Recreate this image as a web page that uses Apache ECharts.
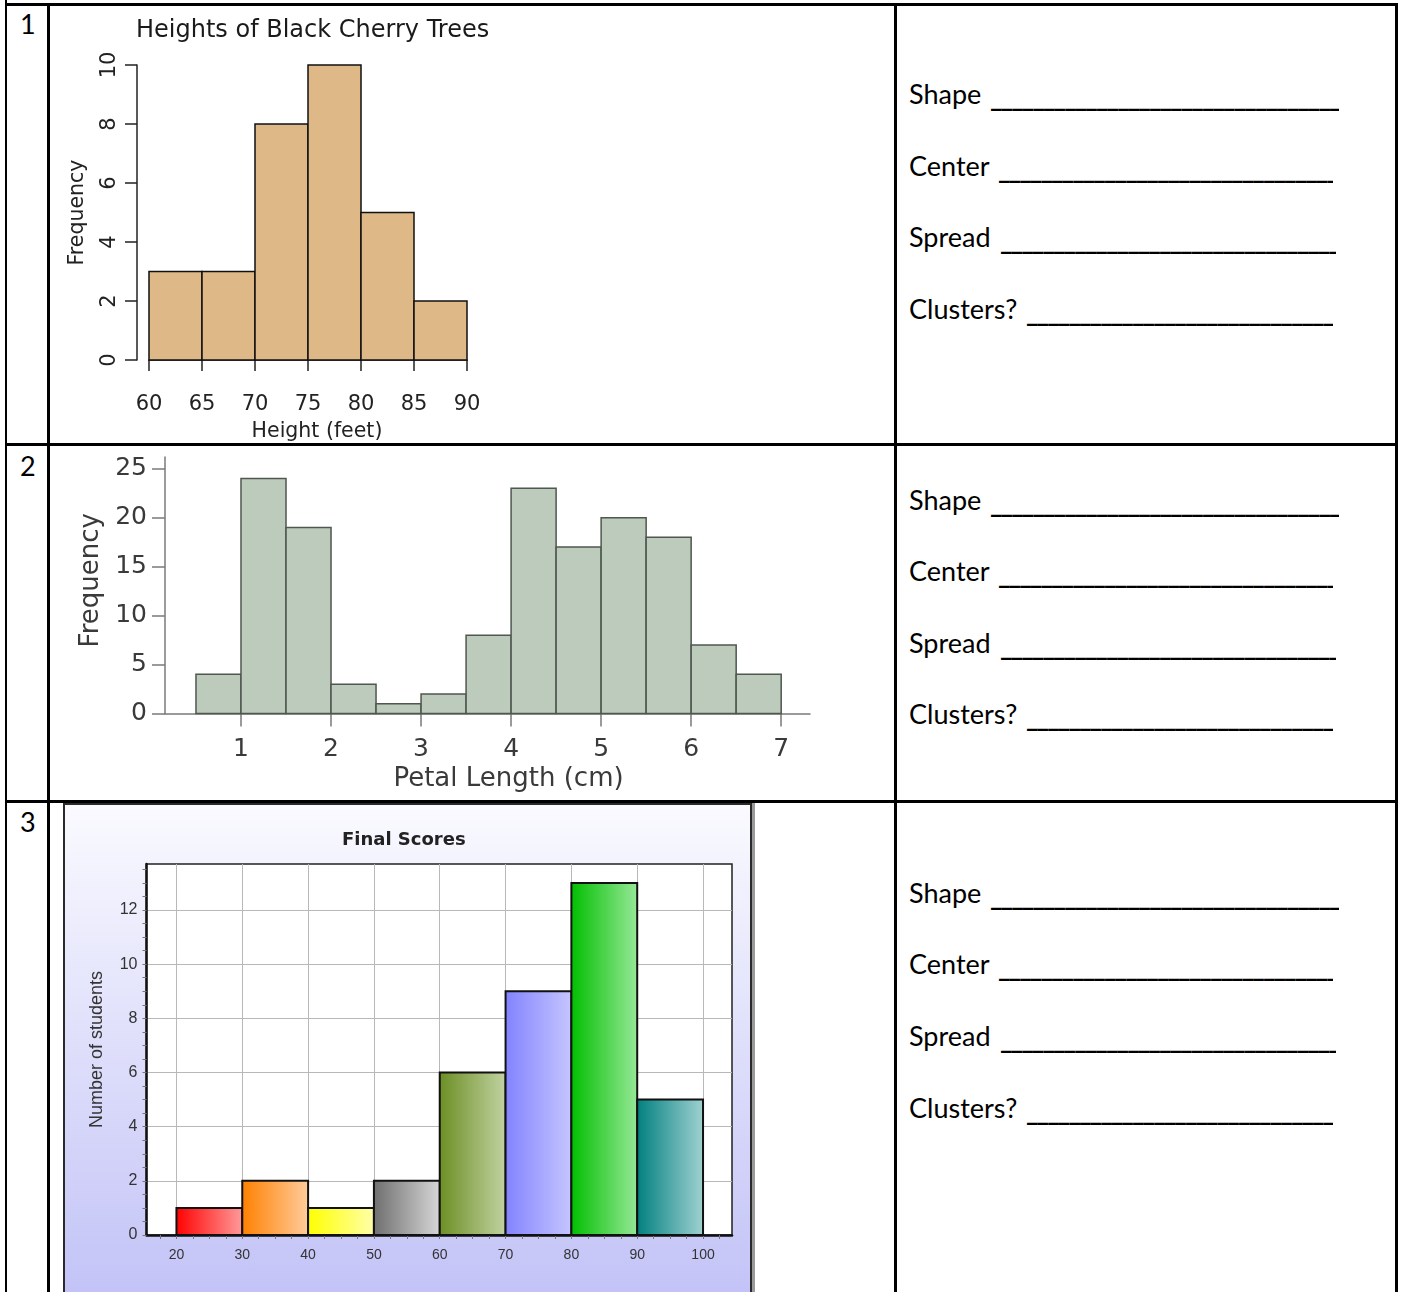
<!DOCTYPE html>
<html><head><meta charset="utf-8">
<script src="https://cdn.jsdelivr.net/npm/echarts@6/dist/echarts.min.js"></script>
<style>
html,body{margin:0;padding:0;background:#fff;}
#page{position:relative;width:1401px;height:1292px;overflow:hidden;font-family:Lato,'Noto Sans',sans-serif;color:#000;}
.ln{position:absolute;background:#000;}
.num{position:absolute;left:20px;font-size:27px;line-height:30px;}
.lab{position:absolute;left:909px;font-size:27px;line-height:34px;white-space:nowrap;}
.u{position:absolute;overflow:hidden;white-space:nowrap;font-size:27px;line-height:34px;letter-spacing:-2px;font-weight:bold;}
.chart{position:absolute;}
#panel3{position:absolute;left:63px;top:803px;width:689px;height:500px;box-sizing:border-box;border:2px solid #2a2a2a;background:linear-gradient(#fafaff,#c2c2f7);box-shadow:3px 0 0 #9a9a9a;}
</style></head><body>
<div id="page">
  <div class="ln" style="left:5px;top:3px;width:1393px;height:3px"></div>
  <div class="ln" style="left:5px;top:0;width:2px;height:1292px"></div>
  <div class="ln" style="left:47px;top:3px;width:3px;height:1289px"></div>
  <div class="ln" style="left:894px;top:3px;width:3px;height:1289px"></div>
  <div class="ln" style="left:1395px;top:3px;width:3px;height:1289px"></div>
  <div class="ln" style="left:5px;top:443px;width:1393px;height:3px"></div>
  <div class="ln" style="left:5px;top:800px;width:1393px;height:3px"></div>

  <div class="num" style="top:9px">1</div>
  <div class="num" style="top:451px">2</div>
  <div class="num" style="top:807px">3</div>

  <div id="panel3"></div>
  <div id="c1" class="chart" style="left:50px;top:6px;width:845px;height:437px"></div>
  <div id="c2" class="chart" style="left:50px;top:446px;width:845px;height:354px"></div>
  <div id="c3" class="chart" style="left:63px;top:803px;width:692px;height:489px"></div>
  <div id="fields"></div>
</div>
<script>
// ---------- data ----------
const rowLabels = ['Shape', 'Center', 'Spread', 'Clusters?'];

const treeTitle = 'Heights of Black Cherry Trees';
const treeBinEdges = [60, 65, 70, 75, 80, 85, 90];
const treeCounts = [3, 3, 8, 10, 5, 2];

const petalBinEdges = [0.5, 1.0, 1.5, 2.0, 2.5, 3.0, 3.5, 4.0, 4.5, 5.0, 5.5, 6.0, 6.5, 7.0];
const petalCounts = [4, 24, 19, 3, 1, 2, 8, 23, 17, 20, 18, 7, 4];
const petalXTicks = [1, 2, 3, 4, 5, 6, 7];
const petalYTicks = [0, 5, 10, 15, 20, 25];

const scoreTitle = 'Final Scores';
const scoreBinEdges = [20, 30, 40, 50, 60, 70, 80, 90, 100];
const scoreCounts = [1, 2, 1, 2, 6, 9, 13, 5];
const scoreXTicks = [20, 30, 40, 50, 60, 70, 80, 90, 100];
const scoreYTicks = [0, 2, 4, 6, 8, 10, 12];
const scoreXMinor = [17.5, 20, 22.5, 25, 27.5, 30, 32.5, 35, 37.5, 40, 42.5, 45, 47.5, 50, 52.5, 55, 57.5, 60, 62.5, 65, 67.5, 70, 72.5, 75, 77.5, 80, 82.5, 85, 87.5, 90, 92.5, 95, 97.5, 100, 102.5];
const scoreYMinor = [0, 0.5, 1, 1.5, 2, 2.5, 3, 3.5, 4, 4.5, 5, 5.5, 6, 6.5, 7, 7.5, 8, 8.5, 9, 9.5, 10, 10.5, 11, 11.5, 12, 12.5, 13, 13.5];

// ---------- styles ----------
const scoreColors = [
  ['#ff0000', '#ff9c9c'], ['#ff8000', '#ffcc9c'], ['#ffff00', '#ffffaa'], ['#6e6e6e', '#d8d8d8'],
  ['#6b8e23', '#c2d3a3'], ['#8282ff', '#c6c6ff'], ['#00bf00', '#98e898'], ['#007f7f', '#a2d2d2']
];

// ---------- worksheet text ----------
const rowCenters = [[95, 167, 238, 310], [501, 572, 644, 715], [894, 965, 1037, 1109]];
const underline = [[990, 349], [998, 335], [1000, 336], [1026, 307]];
const fields = document.getElementById('fields');
const us = '_'.repeat(80);
rowCenters.forEach(row => row.forEach((cy, i) => {
  const a = document.createElement('div');
  a.className = 'lab'; a.style.top = (cy - 18) + 'px'; a.textContent = rowLabels[i];
  fields.appendChild(a);
  const b = document.createElement('div');
  b.className = 'u'; b.style.top = (cy - 15) + 'px';
  b.style.left = underline[i][0] + 'px'; b.style.width = underline[i][1] + 'px';
  b.textContent = us;
  fields.appendChild(b);
}));

function hist(edges, counts) { return counts.map((c, i) => [edges[i], edges[i + 1], c]); }
function histRender(styleFn) {
  return function (params, api) {
    const p0 = api.coord([api.value(0), 0]);
    const p1 = api.coord([api.value(1), api.value(2)]);
    return { type: 'rect', shape: { x: p0[0], y: p1[1], width: p1[0] - p0[0], height: p0[1] - p1[1] }, style: styleFn(params.dataIndex) };
  };
}

// ---------- chart 1 ----------
const F1 = 'DejaVu Sans';
const F3 = 'Liberation Sans';
const c1 = echarts.init(document.getElementById('c1'));
c1.setOption({
  animation: false,
  title: { text: treeTitle, left: 81, top: 8, textStyle: { fontFamily: F1, fontSize: 24, fontWeight: 'normal', color: '#1a1a1a' } },
  grid: { left: 99, top: 59, width: 318, height: 295, outerBoundsMode: 'none', containLabel: false },
  xAxis: {
    type: 'value', min: 60, max: 90, interval: 5, offset: 12,
    axisLine: { lineStyle: { color: '#222', width: 1.5 } },
    axisTick: { length: 11, lineStyle: { color: '#222', width: 1.5 } },
    axisLabel: { fontFamily: F1, fontSize: 21, color: '#222', margin: 22 },
    splitLine: { show: false },
    name: 'Height (feet)', nameLocation: 'middle', nameGap: 49,
    nameTextStyle: { fontFamily: F1, fontSize: 20.5, color: '#222', padding: [0, 0, 0, 18] }
  },
  yAxis: {
    type: 'value', min: 0, max: 10, interval: 2, offset: 12,
    axisLine: { show: true, lineStyle: { color: '#222', width: 1.5 } },
    axisTick: { show: true, length: 12, lineStyle: { color: '#222', width: 1.5 } },
    axisLabel: { fontFamily: F1, fontSize: 21, color: '#222', margin: 17, rotate: 90 },
    splitLine: { show: false },
    name: 'Frequency', nameLocation: 'middle', nameGap: 49,
    nameTextStyle: { fontFamily: F1, fontSize: 20.5, color: '#222' }
  },
  series: [{
    type: 'custom', encode: { x: [0, 1], y: 2 },
    data: hist(treeBinEdges, treeCounts),
    renderItem: histRender(() => ({ fill: '#deb887', stroke: '#111', lineWidth: 1.5 }))
  }]
});

// ---------- chart 2 ----------
const c2 = echarts.init(document.getElementById('c2'));
c2.setOption({
  animation: false,
  grid: { left: 115, top: 11, width: 645, height: 256.5, outerBoundsMode: 'none', containLabel: false },
  xAxis: {
    type: 'value', min: 0.156, max: 7.32,
    axisLine: { lineStyle: { color: '#7a7a7a', width: 1.5 } },
    axisTick: { customValues: petalXTicks, length: 13, lineStyle: { color: '#7a7a7a', width: 1.5 } },
    axisLabel: { customValues: petalXTicks, fontFamily: F1, fontSize: 25, color: '#3a3a3a', margin: 23 },
    splitLine: { show: false },
    name: 'Petal Length (cm)', nameLocation: 'middle', nameGap: 52,
    nameTextStyle: { fontFamily: F1, fontSize: 26, color: '#3a3a3a', padding: [0, 0, 0, 42] }
  },
  yAxis: {
    type: 'value', min: 0, max: 26.2,
    axisLine: { show: true, lineStyle: { color: '#7a7a7a', width: 1.5 } },
    axisTick: { show: true, customValues: petalYTicks, length: 13, lineStyle: { color: '#7a7a7a', width: 1.5 } },
    axisLabel: { customValues: petalYTicks, fontFamily: F1, fontSize: 25, color: '#3a3a3a', margin: 18 },
    splitLine: { show: false },
    name: 'Frequency', nameLocation: 'middle', nameGap: 52,
    nameTextStyle: { fontFamily: F1, fontSize: 26, color: '#3a3a3a', padding: [0, 0, 0, 10] }
  },
  series: [{
    type: 'custom', encode: { x: [0, 1], y: 2 },
    data: hist(petalBinEdges, petalCounts),
    renderItem: histRender(() => ({ fill: '#bccbbc', stroke: '#4f574f', lineWidth: 1.5 }))
  }]
});

// ---------- chart 3 ----------
const c3 = echarts.init(document.getElementById('c3'));
const xMin3 = 15.45, xMax3 = 104.4, yMax3 = 13.7;
c3.setOption({
  animation: false,
  title: { text: scoreTitle, left: 274, top: 23, textStyle: { fontFamily: F1, fontSize: 18, fontWeight: 'bold', color: '#222' } },
  grid: { left: 83.5, top: 61, width: 585.5, height: 371, show: true, backgroundColor: '#fff', borderColor: '#222', borderWidth: 1.5, outerBoundsMode: 'none', containLabel: false },
  xAxis: [{
    type: 'value', min: xMin3, max: xMax3, position: 'bottom',
    axisLine: { lineStyle: { color: '#111', width: 2.5 } },
    axisTick: { customValues: scoreXMinor, length: 4, lineStyle: { color: '#777', width: 1 } },
    axisLabel: { customValues: scoreXTicks, fontFamily: F3, fontSize: 14, color: '#333', margin: 13 },
    splitLine: { show: false }
  }, {
    type: 'value', min: xMin3, max: xMax3, position: 'top',
    axisLine: { show: false }, axisLabel: { show: false },
    axisTick: { show: false, customValues: scoreXTicks },
    splitLine: { show: true, lineStyle: { color: '#b8b8b8', width: 1 } }
  }],
  yAxis: [{
    type: 'value', min: 0, max: yMax3, position: 'left',
    axisLine: { show: true, lineStyle: { color: '#111', width: 2.5 } },
    axisTick: { show: true, customValues: scoreYMinor, length: 4, lineStyle: { color: '#777', width: 1 } },
    axisLabel: { customValues: scoreYTicks, fontFamily: F3, fontSize: 16, color: '#333', margin: 9 },
    splitLine: { show: false },
    name: 'Number of students', nameLocation: 'middle', nameGap: 40,
    nameTextStyle: { fontFamily: F3, fontSize: 18, color: '#333' }
  }, {
    type: 'value', min: 0, max: yMax3, position: 'right',
    axisLine: { show: false }, axisLabel: { show: false },
    axisTick: { show: false, customValues: scoreYTicks },
    splitLine: { show: true, lineStyle: { color: '#b8b8b8', width: 1 } }
  }],
  series: [{
    type: 'custom', xAxisIndex: 0, yAxisIndex: 0, encode: { x: [0, 1], y: 2 },
    data: hist(scoreBinEdges, scoreCounts),
    renderItem: histRender(i => ({
      fill: new echarts.graphic.LinearGradient(0, 0, 1, 0, [
        { offset: 0, color: scoreColors[i][0] }, { offset: 1, color: scoreColors[i][1] }]),
      stroke: '#111', lineWidth: 2
    }))
  }]
});
</script>
</body></html>
